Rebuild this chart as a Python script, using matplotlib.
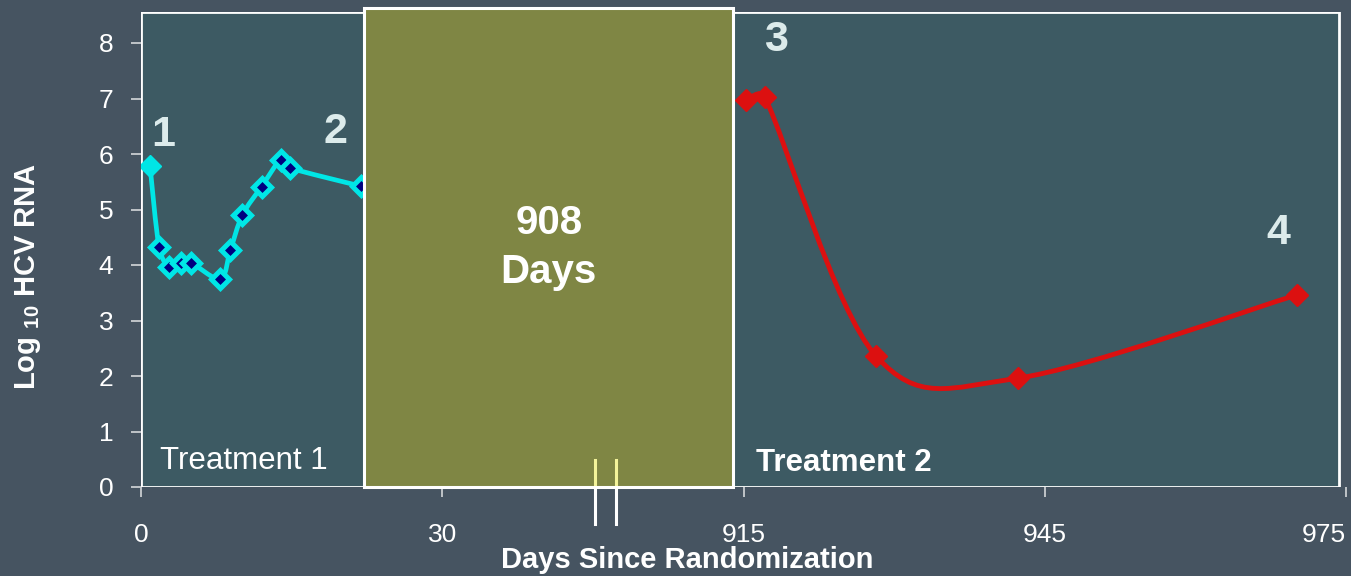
import matplotlib.pyplot as plt
from matplotlib.path import Path
from matplotlib.patches import PathPatch, Rectangle

plt.rcParams['font.family'] = ['Liberation Sans', 'DejaVu Sans']
plt.rcParams['mathtext.fontset'] = 'custom'
plt.rcParams['mathtext.bf'] = 'Liberation Sans:bold'
plt.rcParams['mathtext.rm'] = 'Liberation Sans'

# broken x axis: days after the gap are shifted back by GAP
GAP = 855
x_ticks = [0, 30, 915, 945, 975]

# Treatment 1 (days, log10 HCV RNA)
t1_days = [0.9, 1.8, 2.8, 4.0, 5.0, 7.9, 8.9, 10.1, 12.0, 13.9, 14.8, 21.9]
t1_vals = [5.78, 4.32, 3.96, 4.04, 4.04, 3.75, 4.27, 4.90, 5.41, 5.89, 5.75, 5.42]

# Treatment 2
t2_days = [915.2, 917.1, 928.2, 942.3, 970.1]
t2_vals = [6.97, 7.03, 2.36, 1.96, 3.46]

labels = ['1', '2', '3', '4']
label_x = [2.2, 19.4, 918.2, 968.3]
label_y = [6.35, 6.4, 8.05, 4.58]

BG = '#465461'
PANEL = '#3d5a63'
OLIVE = '#7f8644'
CYAN = '#00e6e6'
RED = '#dc1010'
SX, SY = 10.04, 55.5  # pixels per data unit, for the smoothing


def smooth(xs, ys):
    # catmull-rom bezier through the points, control arms clamped on short segments
    pts = [(x * SX, y * SY) for x, y in zip(xs, ys)]
    n = len(pts)

    def clamp(v, lim):
        l = (v[0] ** 2 + v[1] ** 2) ** 0.5
        if l > lim:
            return (v[0] * lim / l, v[1] * lim / l)
        return v

    verts = [pts[0]]
    codes = [Path.MOVETO]
    for i in range(n - 1):
        p0 = pts[max(i - 1, 0)]
        p1 = pts[i]
        p2 = pts[i + 1]
        p3 = pts[min(i + 2, n - 1)]
        d = ((p2[0] - p1[0]) ** 2 + (p2[1] - p1[1]) ** 2) ** 0.5
        a = clamp(((p2[0] - p0[0]) / 6, (p2[1] - p0[1]) / 6), d / 2)
        b = clamp(((p3[0] - p1[0]) / 6, (p3[1] - p1[1]) / 6), d / 2)
        verts += [(p1[0] + a[0], p1[1] + a[1]), (p2[0] - b[0], p2[1] - b[1]), p2]
        codes += [Path.CURVE4] * 3
    verts = [(x / SX, y / SY) for x, y in verts]
    return Path(verts, codes)


fig = plt.figure(figsize=(13.51, 5.76), dpi=100, facecolor=BG)
ax = fig.add_axes([141 / 1351, 89 / 576, 1205 / 1351, 475 / 576])
ax.set_facecolor('none')
ax.set_xlim(0, 120)
ax.set_ylim(0, 475 / 55.5)
for s in ax.spines.values():
    s.set_visible(False)

# panels
ax.add_patch(Rectangle((0, 0), 22.2, 8.56, facecolor=PANEL, edgecolor='white', lw=2, zorder=1))
ax.add_patch(Rectangle((59.0, 0), 60.3, 8.56, facecolor=PANEL, edgecolor='white', lw=2, zorder=1))
ax.add_patch(Rectangle((22.2, 0), 36.8, 8.63, facecolor=OLIVE, edgecolor='white', lw=2.2,
                       zorder=5, clip_on=False))

# treatment 1
ax.add_patch(PathPatch(smooth(t1_days, t1_vals), facecolor='none', edgecolor=CYAN, lw=3.4, zorder=3))
ax.plot(t1_days[1:], t1_vals[1:], ls='none', marker='D', ms=9, mfc='#000080', mec=CYAN, mew=3.6, zorder=4)
ax.plot(t1_days[:1], t1_vals[:1], ls='none', marker='D', ms=11, mfc=CYAN, mec=CYAN, zorder=4)

# treatment 2
t2_x = [d - GAP for d in t2_days]
ax.add_patch(PathPatch(smooth(t2_x, t2_vals), facecolor='none', edgecolor=RED, lw=3.5, zorder=3))
ax.plot(t2_x, t2_vals, ls='none', marker='D', ms=11, mfc=RED, mec=RED, zorder=4)

for lab, lx, ly in zip(labels, label_x, label_y):
    if lx > 100:
        lx -= GAP
    ax.text(lx, ly, lab, color='#dcebeb', fontsize=31, fontweight='bold', ha='center', va='center', zorder=6)

ax.text(40.6, 4.31, '908\nDays', color='white', fontsize=29, fontweight='bold',
        ha='center', va='center', linespacing=1.38, zorder=6)
ax.text(1.9, 0.47, 'Treatment 1', color='white', fontsize=22.5, ha='left', va='center', zorder=6)
ax.text(61.2, 0.44, 'Treatment 2', color='white', fontsize=22.5, fontweight='bold',
        ha='left', va='center', zorder=6)

# axis break marks
for bx in [45.2, 47.3]:
    ax.plot([bx, bx], [0.0, 0.49], color='#f3f39a', lw=2.2, zorder=6)
    ax.plot([bx, bx], [-0.67, 0.0], color='white', lw=2.2, zorder=6, clip_on=False)

ax.set_xticks([t if t < 100 else t - GAP for t in x_ticks])
ax.set_xticklabels([str(t) for t in x_ticks])
ax.get_xticklabels()[-1].set_horizontalalignment('right')
ax.set_yticks(range(0, 9))
ax.tick_params(axis='x', colors='#c9cdd0', labelcolor='white', labelsize=19, length=7, width=1.3, pad=19)
ax.tick_params(axis='y', colors='#c9cdd0', labelcolor='white', labelsize=19, length=7, width=1.3, pad=13)

fig.text(687 / 1351, 1 - 560 / 576, 'Days Since Randomization', color='white', fontsize=21,
         fontweight='bold', ha='center', va='center')
fig.text(28 / 1351, 1 - 276 / 576, r'Log $_{\mathbf{10}}$ HCV RNA', color='white', fontsize=21,
         fontweight='bold', rotation=90, ha='center', va='center')

fig.savefig('out.png', dpi=100, facecolor=BG)
